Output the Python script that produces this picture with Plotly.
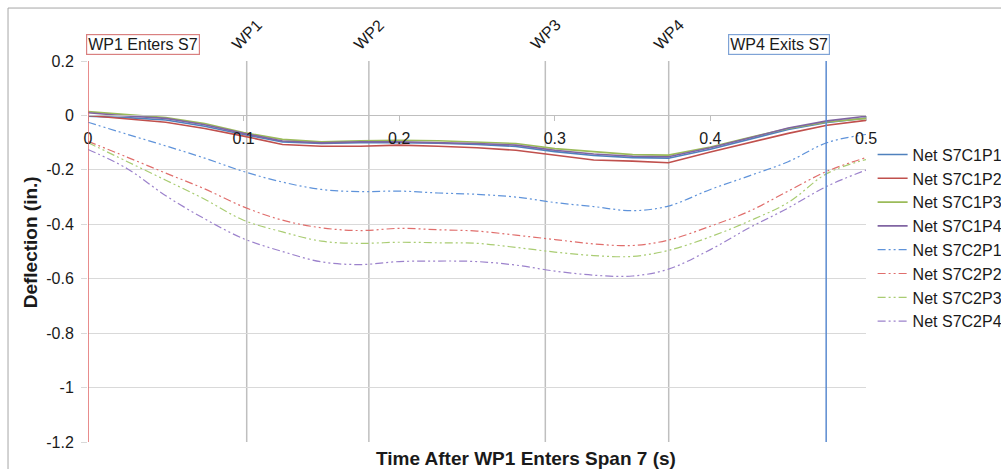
import plotly.graph_objects as go

# Sample times (s) after WP1 enters span 7
time_s = [0, 0.025, 0.05, 0.075, 0.1, 0.125, 0.15, 0.175, 0.2, 0.225, 0.25,
          0.275, 0.3, 0.325, 0.35, 0.373, 0.4, 0.425, 0.45, 0.475, 0.5]

# Net deflections (in.)
s7c1p1 = [-0.003, -0.008, -0.017, -0.040, -0.070, -0.097, -0.103, -0.100, -0.100, -0.102, -0.107,
          -0.114, -0.133, -0.147, -0.155, -0.157, -0.124, -0.088, -0.052, -0.026, -0.010]
s7c1p2 = [0.000, -0.012, -0.025, -0.048, -0.076, -0.107, -0.113, -0.113, -0.109, -0.113, -0.119,
          -0.128, -0.146, -0.164, -0.168, -0.174, -0.134, -0.101, -0.066, -0.036, -0.018]
s7c1p3 = [0.014, 0.003, -0.008, -0.030, -0.063, -0.088, -0.097, -0.093, -0.091, -0.093, -0.097,
          -0.103, -0.122, -0.134, -0.144, -0.146, -0.116, -0.081, -0.048, -0.024, -0.011]
s7c1p4 = [0.010, -0.002, -0.011, -0.034, -0.066, -0.094, -0.101, -0.097, -0.097, -0.099, -0.103,
          -0.109, -0.128, -0.142, -0.150, -0.152, -0.119, -0.083, -0.046, -0.020, -0.003]
s7c2p1 = [-0.025, -0.069, -0.112, -0.157, -0.206, -0.245, -0.272, -0.280, -0.278, -0.285, -0.290,
          -0.300, -0.320, -0.335, -0.350, -0.333, -0.272, -0.222, -0.170, -0.100, -0.070]
s7c2p2 = [-0.095, -0.153, -0.212, -0.270, -0.336, -0.385, -0.413, -0.423, -0.415, -0.420, -0.425,
          -0.440, -0.456, -0.472, -0.478, -0.458, -0.407, -0.352, -0.278, -0.205, -0.155]
s7c2p3 = [-0.100, -0.169, -0.238, -0.308, -0.385, -0.428, -0.462, -0.470, -0.466, -0.468, -0.470,
          -0.485, -0.502, -0.515, -0.518, -0.496, -0.446, -0.388, -0.320, -0.213, -0.162]
s7c2p4 = [-0.125, -0.195, -0.295, -0.380, -0.453, -0.500, -0.538, -0.548, -0.537, -0.535, -0.537,
          -0.550, -0.572, -0.587, -0.590, -0.565, -0.493, -0.413, -0.340, -0.260, -0.201]

series_names = ["Net S7C1P1", "Net S7C1P2", "Net S7C1P3", "Net S7C1P4",
                "Net S7C2P1", "Net S7C2P2", "Net S7C2P3", "Net S7C2P4"]
series_values = [s7c1p1, s7c1p2, s7c1p3, s7c1p4, s7c2p1, s7c2p2, s7c2p3, s7c2p4]

# Wheel-position events (s)
wp_times = [0.102, 0.1805, 0.2939, 0.3732]
wp_labels = ["WP1", "WP2", "WP3", "WP4"]
enter_time = 0.0
exit_time = 0.4744
enter_label = "WP1 Enters S7"
exit_label = "WP4 Exits S7"

y_ticks = [0.2, 0, -0.2, -0.4, -0.6, -0.8, -1, -1.2]
y_tick_text = ["0.2", "0", "-0.2", "-0.4", "-0.6", "-0.8", "-1", "-1.2"]
x_ticks = [0, 0.1, 0.2, 0.3, 0.4, 0.5]
x_tick_text = ["0", "0.1", "0.2", "0.3", "0.4", "0.5"]

solid_colors = ["#4F81BD", "#C0504D", "#9BBB59", "#8064A2"]
dash_colors = ["#5F93DA", "#E06E6C", "#A9CC72", "#9C82CC"]
dash_pattern = "8px,3px,2px,3px,2px,3px"

FONT = "Liberation Sans, Arial, sans-serif"
TXT = "#1a1a1a"

fig = go.Figure()
for i, (name, vals) in enumerate(zip(series_names, series_values)):
    if i < 4:
        line = dict(color=solid_colors[i], width=1.6)
    else:
        line = dict(color=dash_colors[i - 4], width=1.2, dash=dash_pattern, shape="spline")
    fig.add_trace(go.Scatter(x=time_s, y=vals, mode="lines", name=name,
                             line=line, legendgroup=name))

shapes = []
# event marker lines
for t in wp_times:
    shapes.append(dict(type="line", xref="x", yref="paper", x0=t, x1=t, y0=0, y1=1,
                       line=dict(color="#bfbfbf", width=1.5), layer="below"))
shapes.append(dict(type="line", xref="x", yref="paper", x0=enter_time, x1=enter_time,
                   y0=0, y1=1, line=dict(color="#E06666", width=1.5)))
shapes.append(dict(type="line", xref="x", yref="paper", x0=exit_time, x1=exit_time,
                   y0=0, y1=1, line=dict(color="#5B8BD0", width=1.5)))
# chart frame
shapes.append(dict(type="line", xref="paper", yref="paper", x0=-0.1028, x1=1.2, y0=1.139, y1=1.139,
                   line=dict(color="#a6a6a6", width=1)))
shapes.append(dict(type="line", xref="paper", yref="paper", x0=-0.1028, x1=-0.1028, y0=-0.2, y1=1.139,
                   line=dict(color="#a6a6a6", width=1)))

annotations = []
for t, lab in zip(wp_times, wp_labels):
    annotations.append(dict(x=t, xref="x", y=1.0, yref="paper", yshift=27, text=lab,
                            textangle=-45, showarrow=False, xanchor="center", yanchor="middle",
                            font=dict(family=FONT, size=16, color=TXT)))
annotations.append(dict(x=enter_time, xref="x", y=1.0, yref="paper", yshift=17, xshift=-2,
                        text=enter_label, showarrow=False, xanchor="left", yanchor="middle",
                        bordercolor="#D98080", borderwidth=1.2, borderpad=1, bgcolor="white",
                        font=dict(family=FONT, size=16, color=TXT)))
annotations.append(dict(x=exit_time, xref="x", y=1.0, yref="paper", yshift=17, xshift=4,
                        text=exit_label, showarrow=False, xanchor="right", yanchor="middle",
                        bordercolor="#7FA3D6", borderwidth=1.2, borderpad=1, bgcolor="white",
                        font=dict(family=FONT, size=16, color=TXT)))
annotations.append(dict(x=0.5624, xref="paper", y=-0.042, yref="paper",
                        xanchor="center", yanchor="middle",
                        text="<b>Time After WP1 Enters Span 7 (s)</b>", showarrow=False,
                        font=dict(family=FONT, size=19, color=TXT)))
annotations.append(dict(x=-0.0738, xref="paper", y=0.523, yref="paper", textangle=-90,
                        xanchor="center", yanchor="middle",
                        text="<b>Deflection (in.)</b>", showarrow=False,
                        font=dict(family=FONT, size=19, color=TXT)))

fig.update_layout(
    width=1001, height=469,
    margin=dict(l=88, r=135, t=61, b=27, autoexpand=False),
    paper_bgcolor="white", plot_bgcolor="white",
    font=dict(family=FONT, size=16, color=TXT),
    showlegend=True,
    legend=dict(x=1.0085, y=0.799, xanchor="left", yanchor="top",
                traceorder="grouped", tracegroupgap=0,
                font=dict(family=FONT, size=16, color=TXT),
                bgcolor="rgba(0,0,0,0)"),
    xaxis=dict(range=[0, 0.5], tickvals=x_ticks, ticktext=x_tick_text,
               showgrid=False, zeroline=False,
               anchor="free", position=0.857, side="bottom",
               showline=True, linecolor="#bfbfbf", linewidth=1,
               ticks="outside", ticklen=5, tickcolor="#bfbfbf",
               ticklabelstandoff=3,
               tickfont=dict(family=FONT, size=16, color=TXT)),
    yaxis=dict(range=[-1.2, 0.2], tickvals=y_ticks, ticktext=y_tick_text,
               showgrid=True, gridcolor="#d9d9d9",
               gridwidth=1, zeroline=False, showline=False,
               ticks="outside", ticklen=6, tickcolor="#d9d9d9",
               ticklabelstandoff=4,
               tickfont=dict(family=FONT, size=16, color=TXT)),
    shapes=shapes,
    annotations=annotations,
)

fig.write_html("out.html")
